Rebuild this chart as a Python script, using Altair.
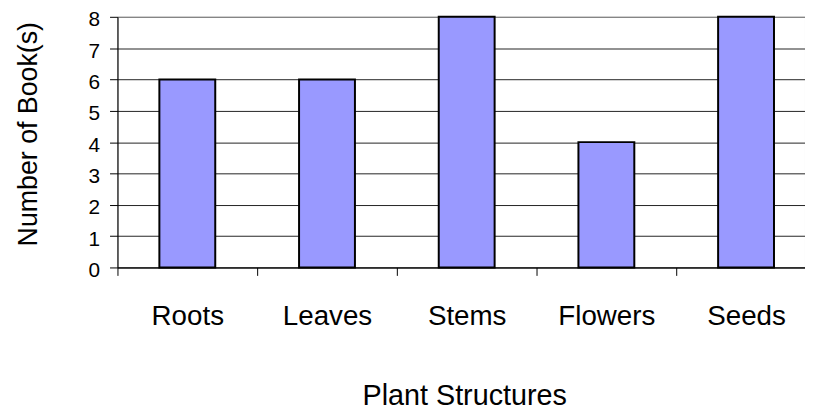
import altair as alt
import pandas as pd

categories = ["Roots", "Leaves", "Stems", "Flowers", "Seeds"]
books = [6, 6, 8, 4, 8]
y_ticks = [0, 1, 2, 3, 4, 5, 6, 7, 8]

df = pd.DataFrame({"Plant Structures": categories, "Books": books})

FONT = "Liberation Sans"

chart = alt.Chart(df).mark_bar(
    color="#9999FF", stroke="black", strokeWidth=2
).encode(
    x=alt.X(
        "Plant Structures:N",
        sort=categories,
        scale=alt.Scale(range=[0, 705], paddingInner=0.6, paddingOuter=0.3),
        axis=alt.Axis(
            title="Plant Structures",
            labelAngle=0,
            labelFontSize=28,
            labelFont=FONT,
            labelColor="black",
            labelBaseline="alphabetic",
            labelPadding=50,
            tickOffset=-70.5,
            labelOffset=70.5,
            tickSize=8,
            tickColor="black",
            domainColor="black",
            titleFont=FONT,
            titleFontSize=29,
            titleFontWeight="normal",
            titleColor="black",
            titleBaseline="alphabetic",
            titleX=350,
            titleY=138,
            grid=False,
        ),
    ),
    y=alt.Y(
        "Books:Q",
        scale=alt.Scale(domain=[0, 8], nice=False),
        axis=alt.Axis(
            title="Number of Book(s)",
            values=y_ticks,
            labelFontSize=21,
            labelFont=FONT,
            labelColor="black",
            labelPadding=10,
            labelBaseline="middle",
            labelOffset=3,
            tickSize=8,
            tickColor="black",
            domainColor="black",
            gridColor=alt.condition("datum.value === 8", alt.value("#808080"), alt.value("#222222")),
            titleFont=FONT,
            titleFontSize=27,
            titleFontWeight="normal",
            titleColor="black",
            titleAngle=-90,
            titleBaseline="middle",
            titleAlign="center",
            titleX=-90,
            titleY=118,
        ),
    ),
).properties(
    width=694,
    height=253,
    padding={"left": 110.5, "top": 7, "right": 0, "bottom": 142},
    autosize=alt.AutoSizeParams(type="none"),
).configure_view(
    stroke="#808080"
)

chart.save("out.html", embed_options={"renderer": "svg", "actions": False})
